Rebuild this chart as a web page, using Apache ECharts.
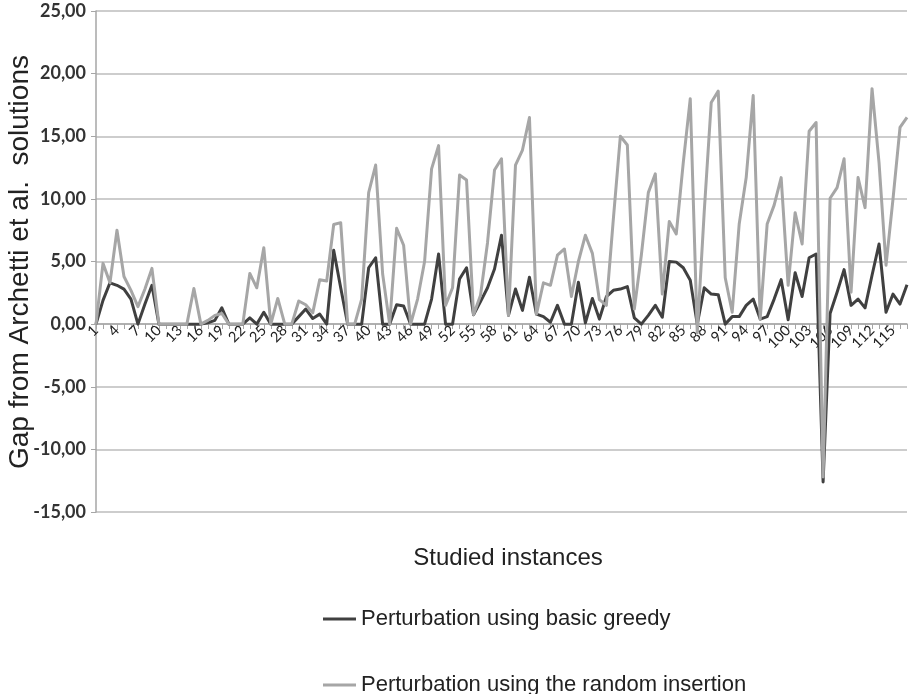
<!DOCTYPE html>
<html><head><meta charset="utf-8">
<script src="https://cdn.jsdelivr.net/npm/echarts@6/dist/echarts.min.js"></script>
<style>html,body{margin:0;padding:0;background:#fff}#c{width:909px;height:694px}</style>
</head><body><div id="c"></div>
<script>
const categories = [
  "1","2","3","4","5","6","7","8","9","10","11","12","13","14","15","16","17","18","19","20",
  "21","22","23","24","25","26","27","28","29","30","31","32","33","34","35","36","37","38","39","40",
  "41","42","43","44","45","46","47","48","49","50","51","52","53","54","55","56","57","58","59","60",
  "61","62","63","64","65","66","67","68","69","70","71","72","73","74","75","76","77","78","79","80",
  "81","82","83","84","85","86","87","88","89","90","91","92","93","94","95","96","97","98","99","100",
  "101","102","103","104","105","106","107","108","109","110","111","112","113","114","115","116","117"
];
const basicGreedy = [
  0,1.9,3.3,3.1,2.8,2.0,0,1.6,3.1,0,
  0,0,0,0,0,0,0.1,0.3,1.3,0,
  0,0,0.5,0,0.95,0,0,0,0,0.6,
  1.2,0.45,0.8,0,5.9,2.9,0,0,0,4.5,
  5.3,0,0,1.55,1.45,0,0,0,2.0,5.6,
  0,0,3.6,4.5,0.75,1.8,2.9,4.4,7.1,0.7,
  2.8,1.1,3.75,0.8,0.6,0.15,1.5,0,0,3.35,
  0.1,2.05,0.4,2.2,2.7,2.8,3.0,0.5,0,0.7,
  1.5,0.55,5.0,4.95,4.5,3.5,0,2.9,2.4,2.35,
  0,0.6,0.6,1.5,2.0,0.4,0.6,2.0,3.55,0.35,
  4.1,2.2,5.3,5.6,-12.6,0.85,2.55,4.35,1.5,2.0,
  1.3,3.9,6.4,0.95,2.4,1.6,3.15
];
const randomInsertion = [
  0,4.85,3.3,7.5,3.8,2.7,1.4,2.8,4.45,0,
  0,0,0,0,2.85,0,0.3,0.7,0.85,0,
  0,0,4.05,2.9,6.1,0,2.05,0,0,1.85,
  1.55,0.9,3.55,3.45,7.95,8.1,0,0,2.0,10.5,
  12.7,4.0,0,7.65,6.3,0,2.0,5.0,12.4,14.25,
  1.5,2.9,11.9,11.5,0.75,2.3,6.5,12.3,13.2,0.7,
  12.7,13.9,16.5,0.8,3.3,3.1,5.5,6.0,2.2,5.0,
  7.1,5.65,1.95,1.5,8.4,15.0,14.3,1.2,5.5,10.5,
  12.0,2.4,8.2,7.2,12.9,18.0,-0.7,9.0,17.7,18.6,
  3.7,0.95,8.0,11.7,18.25,0.4,8.0,9.5,11.7,3.1,
  8.9,6.4,15.4,16.1,-12.2,10.05,10.9,13.2,2.55,11.7,
  9.3,18.8,12.9,4.7,10.0,15.7,16.5
];
const seriesNames = ["Perturbation using basic greedy", "Perturbation using the random insertion"];
const yMin = -15, yMax = 25, yStep = 5;
const yTitle = "Gap from Archetti et al.  solutions";
const xTitle = "Studied instances";

const chart = echarts.init(document.getElementById('c'), null, {renderer: 'canvas'});
const axisGray = '#a6a6a6';
const legendText = {fontSize: 22, fontFamily: 'Liberation Sans', color: '#222'};
chart.setOption({
  animation: false,
  backgroundColor: '#ffffff',
  grid: [
    {left: 96, right: 2, top: 11, bottom: 182, containLabel: false, outerBoundsMode: 'none'},
    {left: 96, right: 2, top: 11, height: 313, containLabel: false, outerBoundsMode: 'none'}
  ],
  xAxis: [{
    gridIndex: 0,
    type: 'category',
    data: categories,
    boundaryGap: false,
    axisLine: {show: false},
    axisTick: {show: false},
    axisLabel: {show: false},
    splitLine: {show: false}
  }, {
    gridIndex: 1,
    type: 'category',
    data: categories,
    boundaryGap: false,
    position: 'bottom',
    axisLine: {show: true, onZero: false, lineStyle: {color: axisGray, width: 1.5}},
    axisTick: {show: true, interval: 0, length: 5, lineStyle: {color: axisGray, width: 1}},
    axisLabel: {interval: 2, rotate: 45, margin: 4, fontSize: 14.5, fontFamily: 'Lato', color: '#222'},
    splitLine: {show: false}
  }],
  yAxis: [{
    gridIndex: 0,
    type: 'value',
    min: yMin, max: yMax, interval: yStep,
    axisLine: {show: true, lineStyle: {color: axisGray, width: 1.5}},
    axisTick: {show: true, length: 5, lineStyle: {color: axisGray}},
    axisLabel: {margin: 10, fontSize: 18, fontWeight: 'bold', fontFamily: 'Lato', color: '#333',
      formatter: v => v.toFixed(2).replace('.', ',')},
    splitLine: {show: true, lineStyle: {color: '#bdbdbd', width: 1.5}}
  }, {
    gridIndex: 1, type: 'value', min: 0, max: 1, show: false
  }],
  legend: [{
    left: 318, top: 603,
    itemWidth: 33, itemHeight: 3, icon: 'rect',
    textStyle: legendText,
    data: [seriesNames[0]]
  }, {
    left: 318, top: 669,
    itemWidth: 33, itemHeight: 3, icon: 'rect',
    textStyle: legendText,
    data: [seriesNames[1]]
  }],
  graphic: [{
    type: 'text', x: 508, y: 558,
    style: {text: xTitle, font: '24px "Liberation Sans"', fill: '#222', textAlign: 'center', textVerticalAlign: 'middle'}
  }, {
    type: 'text', x: 20, y: 262, rotation: Math.PI / 2,
    style: {text: yTitle, font: '28px "Liberation Sans"', fill: '#222', textAlign: 'center', textVerticalAlign: 'middle'}
  }],
  series: [
    {name: seriesNames[0], type: 'line', xAxisIndex: 0, yAxisIndex: 0, data: basicGreedy, symbol: 'none',
     lineStyle: {color: '#404040', width: 3, join: 'round'}, itemStyle: {color: '#404040'}},
    {name: seriesNames[1], type: 'line', xAxisIndex: 0, yAxisIndex: 0, data: randomInsertion, symbol: 'none',
     lineStyle: {color: '#a6a6a6', width: 3, join: 'round'}, itemStyle: {color: '#a6a6a6'}}
  ]
});
</script></body></html>
